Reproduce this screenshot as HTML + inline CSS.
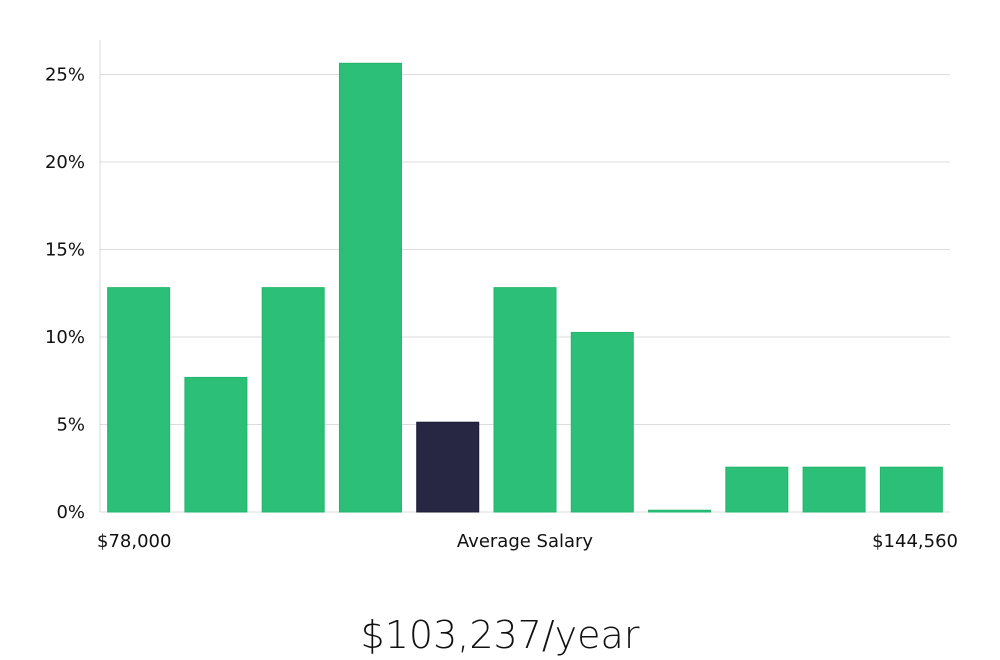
<!DOCTYPE html>
<html><head><meta charset="utf-8"><style>
html,body{margin:0;padding:0;background:#fff;width:1000px;height:660px;overflow:hidden}
svg{display:block}
text{font-family:"DejaVu Sans","Liberation Sans",sans-serif;fill:#111}
</style></head><body>
<svg id="chart" width="1000" height="660">
<g id="grid"></g><g id="bars"></g><g id="ylabels"></g>
<line x1="100" y1="40" x2="100" y2="512" stroke="#d8d8d8" stroke-width="1"/>
<text x="97" y="547" font-size="18">$78,000</text>
<text x="525" y="547" font-size="18" text-anchor="middle">Average Salary</text>
<text x="958" y="547" font-size="18" text-anchor="end">$144,560</text>
<text x="500" y="648" font-size="38" text-anchor="middle" font-family="Liberation Sans,sans-serif" style="font-weight:300;fill:#111">$103,237/year</text>
</svg>
<script>
const values = [12.82, 7.69, 12.82, 25.64, 5.13, 12.82, 10.26, 0.1, 2.56, 2.56, 2.56];
const highlight = [false, false, false, false, true, false, false, false, false, false, false];
const yTicks = [0, 5, 10, 15, 20, 25];
const yTickLabels = ["0%", "5%", "10%", "15%", "20%", "25%"];
const NS = "http://www.w3.org/2000/svg";
const x0 = 100, x1 = 950, yBase = 512, pxPer = 17.5;
const y = v => yBase - v * pxPer;
const step = (x1 - x0) / values.length;
const grid = document.getElementById('grid'), bars = document.getElementById('bars'), yl = document.getElementById('ylabels');
yTicks.forEach((t, i) => {
  const l = document.createElementNS(NS, 'line');
  
  
  l.setAttribute('x1', x0); l.setAttribute('x2', x1);
  l.setAttribute('y1', y(t)); l.setAttribute('y2', y(t));
  l.setAttribute('stroke', '#dcdcdc'); l.setAttribute('stroke-width', '1');
  grid.appendChild(l);
  const tx = document.createElementNS(NS, 'text');
  
  
  tx.setAttribute('x', 85); tx.setAttribute('y', y(t) + 6);
  tx.setAttribute('text-anchor', 'end'); tx.setAttribute('font-size', '18');
  tx.textContent = yTickLabels[i];
  yl.appendChild(tx);
});
values.forEach((v, i) => {
  const r = document.createElementNS(NS, 'rect');
  
  
  const w = 62;
  r.setAttribute('x', x0 + i * step + (step - w) / 2);
  r.setAttribute('y', y(v));
  r.setAttribute('width', w);
  r.setAttribute('height', Math.max(yBase - y(v), 1));
  r.setAttribute('fill', highlight[i] ? '#272643' : '#2cbf78');
  r.setAttribute('stroke', highlight[i] ? '#1c1b33' : '#22b56d');
  r.setAttribute('stroke-width', '1');
  bars.appendChild(r);
});
</script>
</body></html>
